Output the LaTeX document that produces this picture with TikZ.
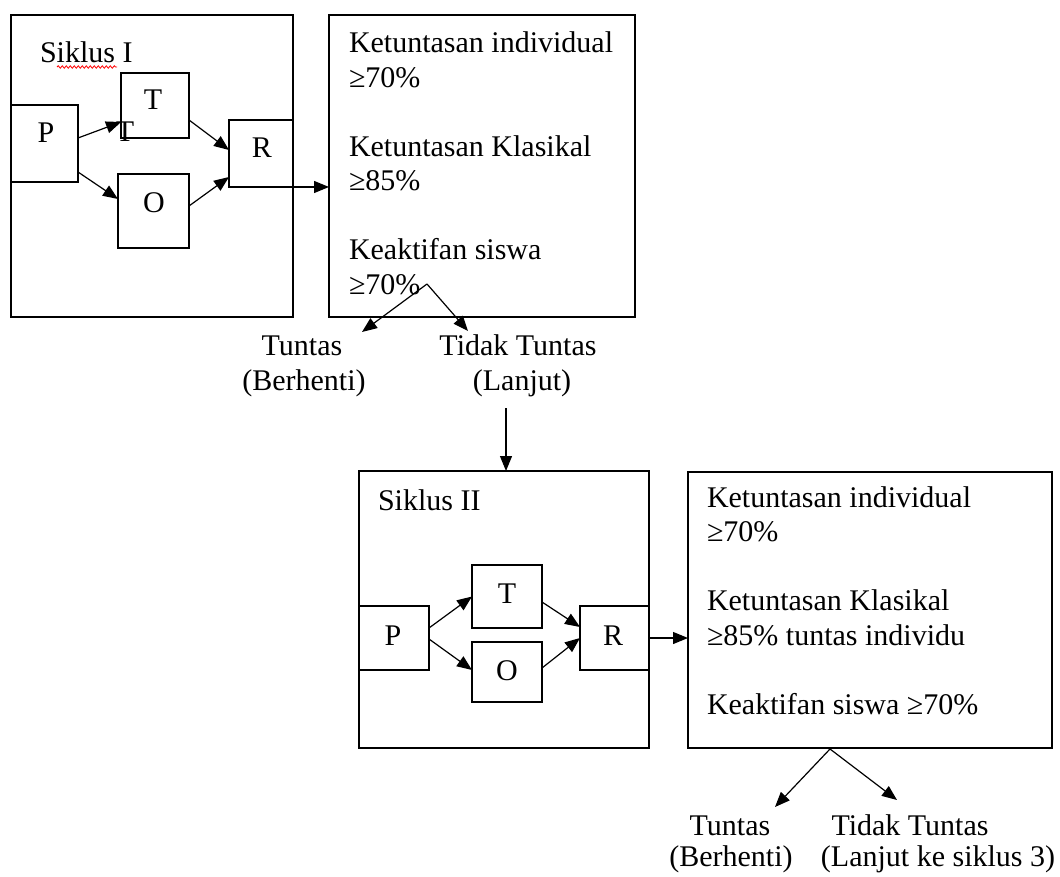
\documentclass[tikz,border=0pt]{standalone}
\usepackage{fontspec}
\setmainfont{Liberation Serif}
\usetikzlibrary{arrows.meta,decorations.pathmorphing}
\begin{document}
\begin{tikzpicture}[x=1pt,y=-1pt,
  every node/.style={font=\fontsize{30}{34.5}\selectfont, inner sep=0pt, outer sep=0pt},
  box/.style={draw, line width=1.3pt, anchor=north west},
  conn/.style={line width=1.2pt, -{Triangle[length=15pt,width=12pt]}},
  txt/.style={anchor=base west},
  lbl/.style={anchor=base}
]
\useasboundingbox (0,0) rectangle (1060,877);

% ---------- Siklus I ----------
\node[box, minimum width=282pt, minimum height=302pt] (B1) at (11,15) {};
\node[txt] (s1) at (40,63) {Siklus I};
\draw[red, line width=0.8pt, decorate, decoration={snake, segment length=4pt, amplitude=1.2pt}] (57,67) -- (117,67);
\node[box, fill=white, minimum width=67pt, minimum height=77pt] (P1) at (11,105) {};
\node[box, fill=white, minimum width=68pt, minimum height=65pt] (T1) at (121,73) {};
\node[box, fill=white, minimum width=71pt, minimum height=74pt] (O1) at (118,174) {};
\node[box, fill=white, minimum width=64pt, minimum height=67pt] (R1) at (229,120) {};
\node[lbl] (p1t) at (46,143) {P};
\node[lbl] (t1t) at (153,110) {T};
\node[lbl] (t1x) at (125,142) {T};
\node[lbl] (o1t) at (154,213) {O};
\node[lbl] (r1t) at (262,158) {R};
\draw[conn] ([yshift=5.5pt]P1.east) -- ([yshift=-16.5pt]T1.west);
\draw[conn] ([yshift=-28.5pt]P1.east) -- ([yshift=12pt]O1.west);
\draw[conn] ([yshift=-14.5pt]T1.east) -- ([yshift=3.5pt]R1.west);
\draw[conn] ([yshift=5pt]O1.east) -- ([yshift=-23.5pt]R1.west);

% ---------- Kriteria I ----------
\node[box, minimum width=306pt, minimum height=302pt] (B2) at (329,15) {};
\draw[conn] (R1.south east) -- (R1.south east -| B2.west);
\node[txt] (k1a) at (349,53) {Ketuntasan individual};
\node[txt] (k1b) at (349,87.5) {≥70\%};
\node[txt] (k1c) at (349,156.5) {Ketuntasan Klasikal};
\node[txt] (k1d) at (349,191) {≥85\%};
\node[txt] (k1e) at (349,260) {Keaktifan siswa};
\node[txt] (k1f) at (349,294.5) {≥70\%};

\coordinate (a1) at (427,284);
\coordinate (e1l) at (362,332);
\coordinate (e1r) at (468,331);
\draw[conn] (a1) -- (e1l);
\draw[conn] (a1) -- (e1r);
\node[lbl] (tu1) at (302,355) {Tuntas};
\node[lbl] (be1) at (304,390) {(Berhenti)};
\node[lbl] (tt1) at (518,355) {Tidak Tuntas};
\node[lbl] (la1) at (522,390) {(Lanjut)};

% ---------- Siklus II ----------
\node[box, minimum width=290pt, minimum height=277pt] (B3) at (359,471) {};
\draw[conn] ([xshift=-16pt,yshift=-12pt]la1.south) -- ([xshift=-16pt]la1.south |- B3.north);
\node[txt] (s2) at (378,510) {Siklus II};
\node[box, fill=white, minimum width=70pt, minimum height=64pt] (P2) at (359,606) {};
\node[box, fill=white, minimum width=70pt, minimum height=63pt] (T2) at (472,565) {};
\node[box, fill=white, minimum width=70pt, minimum height=60pt] (O2) at (472,642) {};
\node[box, fill=white, minimum width=69pt, minimum height=64pt] (R2) at (580,606) {};
\node[lbl] (p2t) at (393,645) {P};
\node[lbl] (t2t) at (507,603) {T};
\node[lbl] (o2t) at (507,680) {O};
\node[lbl] (r2t) at (613,645) {R};
\draw[conn] ([yshift=10pt]P2.east) -- (T2.west);
\draw[conn] ([yshift=-1pt]P2.east) -- ([yshift=2pt]O2.west);
\draw[conn] ([yshift=-5.5pt]T2.east) -- ([yshift=11pt]R2.west);
\draw[conn] ([yshift=4pt]O2.east) -- (R2.west);

% ---------- Kriteria II ----------
\node[box, minimum width=364pt, minimum height=276pt] (B4) at (688,472) {};
\draw[conn] (R2.east) -- (B4.west |- R2.east);
\node[txt] (k2a) at (707,507) {Ketuntasan individual};
\node[txt] (k2b) at (707,541.5) {≥70\%};
\node[txt] (k2c) at (707,610.5) {Ketuntasan Klasikal};
\node[txt] (k2d) at (707,645) {≥85\% tuntas individu};
\node[txt] (k2e) at (707,714) {Keaktifan siswa ≥70\%};

\coordinate (a2) at (830,749);
\coordinate (e2l) at (775,807);
\coordinate (e2r) at (897,800);
\draw[conn] (a2) -- (e2l);
\draw[conn] (a2) -- (e2r);
\node[lbl] (tu2) at (730,835) {Tuntas};
\node[lbl] (be2) at (731,866) {(Berhenti)};
\node[lbl] (tt2) at (910,835) {Tidak Tuntas};
\node[lbl] (la2) at (938,866) {(Lanjut ke siklus 3)};
\end{tikzpicture}
\end{document}
